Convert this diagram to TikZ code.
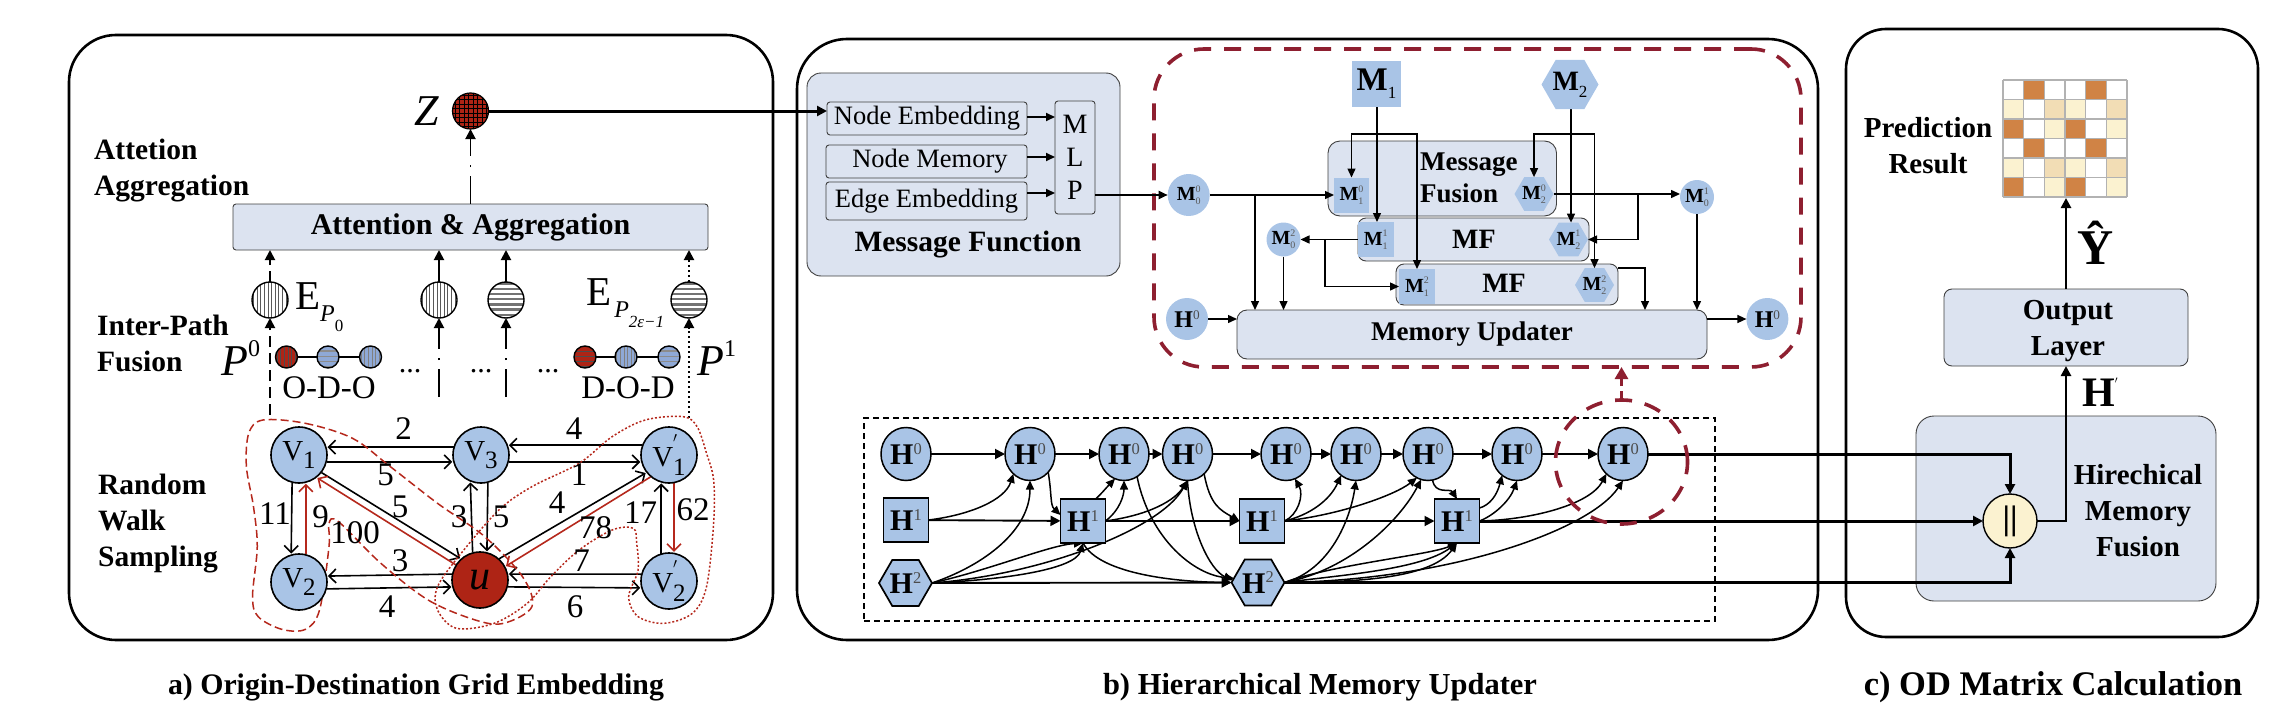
\documentclass[tikz,border=0pt]{standalone}
\usepackage{fontspec}
\setmainfont{Liberation Serif}
\usetikzlibrary{arrows.meta,shapes.geometric,calc}
\pgfdeclarelayer{back}\pgfdeclarelayer{edges}\pgfsetlayers{back,edges,main}
\definecolor{pbox}{HTML}{DCE3F0}
\definecolor{nblue}{HTML}{A9C4E6}
\definecolor{sblue}{HTML}{8FA9D6}
\definecolor{ured}{HTML}{AE2415}
\definecolor{dred}{HTML}{8E1F30}
\definecolor{lred}{HTML}{B5281C}
\definecolor{cello}{HTML}{D08345}
\definecolor{cellt}{HTML}{F2DDB5}
\definecolor{cellp}{HTML}{FBF2D0}
\definecolor{cellw}{HTML}{FFFFFF}
\newcommand{\fsz}[1]{\fontsize{#1}{#1}\selectfont}
\newcommand{\MSS}[2]{{\bfseries M}\rlap{\raisebox{.42em}{\fsz{10}\color{black!65}#1}}\raisebox{-.2em}{\fsz{10}\color{black!65}#2}}
\newcommand{\HS}[1]{{\bfseries H}\raisebox{.36em}{\fontsize{.55em}{.55em}\selectfont\color{black!70}#1}}
\newcommand{\VS}[1]{V\raisebox{-.3em}{\fsz{25}#1}}
\newcommand{\VP}[1]{V\rlap{\raisebox{.55em}{\fsz{20}$'$}}\raisebox{-.3em}{\fsz{25}#1}}
\tikzset{
  tri/.style={-{Triangle[length=10pt,width=10pt]}},
  tris/.style={-{Triangle[length=9pt,width=8pt]}},
  barb/.style={-{Straight Barb[length=7pt,width=14pt]},shorten >=1pt},
  panel/.style={draw=black,line width=2.6pt,rounded corners=#1,inner sep=0pt,outer sep=0pt},
  blk/.style={draw=black!75,line width=.9pt,fill=pbox,inner sep=0pt,outer sep=0pt,rounded corners=#1},
  bt/.style={font=\fontsize{29.5}{36}\selectfont\bfseries,inner sep=0pt},
  elab/.style={font=\fsz{33},inner sep=0pt},
  gnode/.style={circle,draw=black,line width=1.6pt,fill=nblue,minimum size=56pt,inner sep=0pt,outer sep=.5pt,font=\fsz{29}},
  hatched/.style={circle,draw=black,line width=1.4pt,inner sep=0pt,outer sep=0pt},
  vh/.style 2 args={path picture={\foreach \d in {-20,-16.4,...,20}{\draw[#1,line width=#2pt] ([xshift=\d pt]path picture bounding box.north) -- ([xshift=\d pt]path picture bounding box.south);}}},
  hh/.style 2 args={path picture={\foreach \d in {-20,-14.8,...,20}{\draw[#1,line width=#2pt] ([yshift=\d pt]path picture bounding box.west) -- ([yshift=\d pt]path picture bounding box.east);}}},
  zgrid/.style={path picture={\foreach \d in {-20,-15.5,...,20}{\draw[black,line width=.9pt] ([xshift=\d pt]path picture bounding box.north) -- ([xshift=\d pt]path picture bounding box.south);\draw[black,line width=.9pt] ([yshift=\d pt]path picture bounding box.west) -- ([yshift=\d pt]path picture bounding box.east);}}},
  mc/.style={circle,fill=nblue,inner sep=0pt,outer sep=0pt,font=\fsz{20}},
  ms/.style={rectangle,fill=nblue,inner sep=0pt,outer sep=0pt,font=\fsz{20}},
  mh/.style={regular polygon,regular polygon sides=6,fill=nblue,inner sep=0pt,outer sep=0pt,font=\fsz{20}},
  hc/.style={ellipse,draw=black,line width=1.5pt,fill=nblue,minimum width=50pt,minimum height=53pt,inner sep=0pt,outer sep=0pt,font=\fsz{30}},
  hs/.style={rectangle,draw=black,line width=1.7pt,fill=nblue,minimum width=45pt,minimum height=44pt,inner sep=0pt,outer sep=0pt,font=\fsz{30}},
  hx/.style={regular polygon,regular polygon sides=6,draw=black,line width=1.7pt,fill=nblue,minimum size=53pt,inner sep=0pt,outer sep=0pt,font=\fsz{30}},
  cv/.style={line width=1.5pt,-{Triangle[length=9pt,width=8pt]}},
  row/.style={line width=1.9pt,tri},
  thickrow/.style={line width=3pt},
  thin1/.style={line width=1.4pt},
  red1/.style={draw=lred,line width=1.6pt},
  ddash/.style={dash pattern=on 11pt off 6pt},
  ddot/.style={dash pattern=on 2.5pt off 2.5pt},
  ddashdot/.style={dash pattern=on 28pt off 9pt on 2.5pt off 9pt on 40pt off 0pt},
  hb/.style={line width=1.9pt}
}
\begin{document}
\begin{tikzpicture}[x=1pt,y=-1pt]
\useasboundingbox (0,0) rectangle (2271,725);

\begin{pgfonlayer}{back}
\node[panel=47pt,minimum width=704pt,minimum height=605pt] (pa) at (421,337.5) {};
\node[panel=50pt,minimum width=1021pt,minimum height=601pt] (pb) at (1307.5,339.5) {};
\node[panel=40pt,minimum width=412pt,minimum height=608pt] (pc) at (2052,333) {};

\node[blk=3pt,minimum width=475pt,minimum height=46pt,font=\fontsize{30}{36}\selectfont\bfseries] (att) at (470.5,227) {\raisebox{-2.5pt}{Attention \& Aggregation}};

\node[blk=14pt,minimum width=313pt,minimum height=203pt] (mfn) at (963.5,174.5) {};
\node[blk=3pt,minimum width=200pt,minimum height=33pt,font=\fsz{26.5}] (ne) at (927,118.5) {Node Embedding};
\node[blk=3pt,minimum width=201pt,minimum height=33pt,font=\fsz{26.5}] (nm) at (926.5,161.5) {\hspace{7pt}Node Memory};
\node[blk=3pt,minimum width=201pt,minimum height=38pt,font=\fsz{26.5}] (ee) at (926.5,201) {Edge Embedding};
\node[blk=3pt,minimum width=40pt,minimum height=113pt,align=center,font=\fontsize{28}{33}\selectfont] (mlp) at (1075,157.5) {M\\L\\P};
\node[font=\fsz{29.5}\bfseries,inner sep=0pt] (mft) at (968,245) {Message Function};

\node[blk=12pt,minimum width=228.5pt,minimum height=75pt] (mf0) at (1442.25,178.5) {};
\node[blk=8pt,minimum width=231pt,minimum height=43pt] (mf1) at (1473.5,239.5) {};
\node[blk=8pt,minimum width=222pt,minimum height=41pt] (mf2) at (1507,284.5) {};
\node[blk=10pt,minimum width=470pt,minimum height=49pt,font=\fsz{27}\bfseries] (mem) at (1472,334.5) {\raisebox{-2.5pt}{Memory Updater}};

\node[blk=18pt,minimum width=300pt,minimum height=185pt] (hmf) at (2066,508.5) {};
\node[blk=8pt,minimum width=244pt,minimum height=77pt] (outl) at (2066,327.5) {};
\node[font=\fontsize{29}{36}\selectfont\bfseries,align=center,inner sep=0pt] (outt) at (2068,331) {Output\\Layer};

\foreach \c [count=\i from 0] in {cellw,cello,cellw,cellw,cello,cellw,cellp,cellw,cellt,cellp,cellw,cellt,cello,cellw,cellp,cello,cellw,cellp,cellw,cello,cellw,cellw,cello,cellw,cellp,cellw,cellt,cellp,cellw,cellt,cello,cellw,cellp,cello,cellw,cellp}{
  \pgfmathtruncatemacro{\cc}{mod(\i,6)}
  \pgfmathtruncatemacro{\rr}{int(\i/6)}
  \fill[\c] (2003+\cc*20.67,80+\rr*19.5) rectangle ++(20.67,19.5);
}
\foreach \i in {0,...,6}{
  \draw[black!30,line width=1.2pt] (2003+\i*20.67,80) -- (2003+\i*20.67,197);
  \draw[black!30,line width=1.2pt] (2003,80+\i*19.5) -- (2127,80+\i*19.5);
}
\coordinate (gridb) at (2066,198);
\end{pgfonlayer}

% ---- texts panel a
\node[bt,anchor=west,align=left] (tatt) at (94,170.5) {Attetion\\Aggregation};
\node[bt,anchor=west,align=left] (tfus) at (97,343) {Inter-Path\\Fusion};
\node[bt,anchor=west,align=left] (trw) at (98,523.5) {Random\\Walk\\Sampling};

\node[circle,fill=ured,draw=black,line width=1.2pt,minimum size=36pt,inner sep=0pt,outer sep=0pt,zgrid] (Z) at (470.5,111) {};
\node[inner sep=0pt,anchor=base,font=\fsz{44}\itshape] (zlab) at (427,125) {Z};

\node[hatched,minimum size=36pt,vh={black!65}{1}] (E1) at (270,300) {};
\node[hatched,minimum size=36pt,vh={black!65}{1}] (E2) at (439,300) {};
\node[hatched,minimum size=36pt,hh={black!55}{2.4}] (E3) at (506,300) {};
\node[hatched,minimum size=36pt,hh={black!55}{2.4}] (E4) at (689,300) {};

\node[inner sep=0pt,anchor=base west,font=\fsz{41}] (Ep0) at (295,309) {E\raisebox{-.3em}{\fsz{24}\itshape P}\raisebox{-.55em}{\fsz{17}0}};
\node[inner sep=0pt,anchor=base west,font=\fsz{41}] (Ep1) at (586,305) {E\hspace{3pt}\raisebox{-.3em}{\fsz{24}\itshape P}\raisebox{-.55em}{\fsz{17}\itshape 2ε−1}};
\node[inner sep=0pt,anchor=base west,font=\fsz{44}\itshape] (P0) at (221,375) {P\raisebox{.42em}{\fsz{24}\upshape 0}};
\node[inner sep=0pt,anchor=base west,font=\fsz{44}\itshape] (P1) at (697,375) {P\raisebox{.42em}{\fsz{24}\upshape 1}};

\node[hatched,minimum size=22pt,fill=ured,vh={black!70}{1}] (a1) at (286.5,357) {};
\node[hatched,minimum size=22pt,fill=sblue,hh={black!45}{1.3}] (a2) at (328,357) {};
\node[hatched,minimum size=22pt,fill=sblue,vh={black!50}{1}] (a3) at (370.5,357) {};
\node[hatched,minimum size=22pt,fill=ured,hh={black!70}{1}] (b1) at (585,357) {};
\node[hatched,minimum size=22pt,fill=sblue,vh={black!50}{1}] (b2) at (626,357) {};
\node[hatched,minimum size=22pt,fill=sblue,hh={black!45}{1.3}] (b3) at (669,357) {};
\node[inner sep=0pt,font=\fsz{33}] (odo) at (329,388) {O-D-O};
\node[inner sep=0pt,font=\fsz{33}] (dod) at (628,388) {D-O-D};
\node[inner sep=0pt,anchor=base,font=\fsz{30}] (d1) at (410,372) {...};
\node[inner sep=0pt,anchor=base,font=\fsz{30}] (d2) at (481,372) {...};
\node[inner sep=0pt,anchor=base,font=\fsz{30}] (d3) at (548,372) {...};

\node[gnode] (v1) at (299,455) {\VS{1}};
\node[gnode] (v2) at (299,582) {\VS{2}};
\node[gnode] (v3) at (481,455) {\VS{3}};
\node[gnode,fill=ured,font=\fsz{42}\itshape] (u) at (480,580) {u};
\node[gnode] (w1) at (669,455) {\VP{1}};
\node[gnode] (w2) at (669,581) {\VP{2}};

\node[elab] (l1) at (403.5,429) {2};
\node[elab] (l2) at (385.6,475) {5};
\node[elab] (l3) at (574,429) {4};
\node[elab] (l4) at (579,475) {1};
\node[elab] (l5) at (400,507) {5};
\node[elab] (l6) at (459,517) {3};
\node[elab] (l7) at (501,517) {5};
\node[elab] (l8) at (557,503) {4};
\node[elab] (l9) at (595.6,528) {78};
\node[elab] (l10) at (640.5,513) {17};
\node[elab] (l11) at (693,510) {62};
\node[elab] (l12) at (275,514) {11};
\node[elab] (l13) at (320.5,517) {9};
\node[elab] (l14) at (355,533) {100};
\node[elab] (l15) at (400,561) {3};
\node[elab] (l16) at (581.5,561) {7};
\node[elab] (l17) at (387,607) {4};
\node[elab] (l18) at (575,607) {6};

\node[font=\fsz{29.8}\bfseries,inner sep=0pt] (capa) at (416,687) {a) Origin-Destination Grid Embedding};
\node[font=\fsz{30.5}\bfseries,inner sep=0pt] (capb) at (1320,687) {b) Hierarchical Memory Updater};
\node[font=\fsz{34.5}\bfseries,inner sep=0pt] (capc) at (2053,687) {c) OD Matrix Calculation};

% ---- memory updater nodes
\node[ms,minimum width=49pt,minimum height=46pt,font=\fsz{33}] (M1) at (1376.5,84) {{\bfseries M}\raisebox{-.25em}{\fsz{17}1}};
\node[mh,minimum size=50pt,font=\fsz{28}] (M2) at (1570,84.5) {{\bfseries M}\raisebox{-.25em}{\fsz{17}2}};
\node[mc,minimum size=42pt] (M00) at (1188.7,195) {\MSS{0}{0}};
\node[mc,minimum size=34pt] (M10) at (1697,197) {\MSS{1}{0}};
\node[mc,minimum size=34pt] (M20) at (1283.5,239.5) {\MSS{2}{0}};
\node[ms,minimum width=35pt,minimum height=35pt] (M01) at (1351.5,195) {\MSS{0}{1}};
\node[mh,minimum size=39pt] (M02) at (1534,194) {\MSS{0}{2}};
\node[ms,minimum width=35.5pt,minimum height=35pt] (M11) at (1375.75,239.5) {\MSS{1}{1}};
\node[mh,minimum size=39pt] (M12) at (1568.5,239.5) {\MSS{1}{2}};
\node[ms,minimum width=36pt,minimum height=35pt] (M21) at (1417,286.5) {\MSS{2}{1}};
\node[mh,minimum size=38pt] (M22) at (1594.5,285) {\MSS{2}{2}};
\node[font=\fontsize{27}{32}\selectfont\bfseries,inner sep=0pt,anchor=west,align=left] (tmf) at (1420,178) {Message\\Fusion};
\node[font=\fsz{28}\bfseries,inner sep=0pt] (tm1) at (1474,239) {MF};
\node[font=\fsz{28}\bfseries,inner sep=0pt] (tm2) at (1504,283) {MF};
\node[mc,minimum size=42pt,font=\fsz{24}] (HL) at (1187,319) {\HS{0}};
\node[mc,minimum size=42pt,font=\fsz{24}] (HR) at (1767.4,319) {\HS{0}};

% ---- history rows
\foreach \n/\x in {a/906,b/1030,c/1124,d/1187.5,e/1286,f/1356,g/1428,h/1517,i/1623}{
  \node[hc] (H0\n) at (\x,454) {\HS{0}};
}
\node[hs] (H1a) at (906,520) {\HS{1}};
\node[hs] (H1b) at (1083,521) {\HS{1}};
\node[hs] (H1c) at (1262,521) {\HS{1}};
\node[hs] (H1d) at (1457,521) {\HS{1}};
\node[hx] (H2a) at (905.5,583) {\HS{2}};
\node[hx] (H2b) at (1258,582.5) {\HS{2}};

% ---- panel c
\node[circle,draw=black,line width=1.4pt,fill=cellp,minimum size=54pt,inner sep=0pt,outer sep=0pt,font=\fsz{34}\bfseries] (cat) at (2010,521) {||};
\node[font=\fontsize{29}{36}\selectfont\bfseries,align=center,inner sep=0pt] (thmf) at (2138,511) {Hirechical\\Memory\\Fusion};
\node[font=\fontsize{29}{36}\selectfont\bfseries,align=center,inner sep=0pt] (tpr) at (1928,146) {Prediction\\Result};
\node[font=\fsz{50}\bfseries,inner sep=0pt,anchor=base] (yhat) at (2096,264) {Ŷ};
\node[font=\fsz{42}\bfseries,inner sep=0pt,anchor=base west] (hprime) at (2082,406) {H\raisebox{.42em}{\fsz{14}$'$}};

\begin{pgfonlayer}{edges}
% panel a vertical flows
\coordinate (pl) at (270,415);
\coordinate (pm1) at (439,397);
\coordinate (pm2) at (506,397);
\coordinate (pr) at (689,418);
\draw[tri,line width=1.9pt,ddashdot] (att.north -| Z) -- (Z.south);
\draw[tri,line width=1.9pt,ddash] (pl) -- (E1.south);
\draw[tri,line width=1.9pt,ddash] (E1.north) -- (E1.north |- att.south);
\draw[tri,line width=1.9pt,ddashdot] (pm1) -- (E2.south);
\draw[tri,line width=1.9pt] (E2.north) -- (E2.north |- att.south);
\draw[tri,line width=1.9pt,ddashdot] (pm2) -- (E3.south);
\draw[tri,line width=1.9pt] (E3.north) -- (E3.north |- att.south);
\draw[tri,line width=2pt,ddot] (pr) -- (E4.south);
\draw[tri,line width=2pt,ddot] (E4.north) -- (E4.north |- att.south);
\draw[line width=1.6pt] (a1) -- (a2) -- (a3);
\draw[line width=1.6pt] (b1) -- (b2) -- (b3);
% graph edges
\draw[barb,line width=1.6pt] (v3.164) -- (v1.16);
\draw[barb,line width=1.6pt] (v1.-14) -- (v3.194);
\draw[barb,line width=1.6pt] (w1.160) -- (v3.20);
\draw[barb,line width=1.6pt] (v3.-14) -- (w1.194);
\draw[barb,line width=1.6pt] (v1.-38) -- (u.132);
\draw[barb,red1] (u.148) -- (v1.-52);
\draw[barb,line width=1.6pt] (v3.-76) -- (u.76);
\draw[barb,line width=1.6pt] (u.105) -- (v3.-112);
\draw[barb,line width=1.6pt] (u.48) -- (w1.-142);
\draw[barb,red1] (w1.-130) -- (u.28);
\draw[barb,line width=1.6pt] (v1.-104) -- (v2.106);
\draw[barb,red1] (v2.76) -- (v1.-76);
\draw[barb,red1] (w1.-80) -- (w2.80);
\draw[barb,line width=1.6pt] (w2.106) -- (w1.-106);
\draw[barb,line width=1.6pt] (u.168) -- (v2.12);
\draw[barb,line width=1.6pt] (v2.-14) -- (u.194);
\draw[barb,line width=1.6pt] (w2.166) -- (u.12);
\draw[barb,line width=1.6pt] (u.-14) -- (w2.194);
% red outlines
\begin{scope}[shift={(60,390)},x=0.47192pt,y=-0.33333pt]
\draw[lred,line width=1.5pt,dash pattern=on 8pt off 4pt] plot[smooth cycle,tension=.55] coordinates {(430,90) (520,100) (620,145) (700,230) (800,340) (900,440) (980,560) (1000,650) (940,700) (880,690) (780,630) (680,520) (590,395) (570,400) (570,470) (550,660) (520,718) (470,718) (420,680) (408,620) (418,470) (410,350) (395,230) (400,130)};
\draw[lred,line width=1.5pt,dash pattern=on 2pt off 2pt] plot[smooth cycle,tension=.55] coordinates {(1240,90) (1320,80) (1350,110) (1370,190) (1385,270) (1385,400) (1370,590) (1340,670) (1280,700) (1225,680) (1205,620) (1225,540) (1222,460) (1215,415) (1170,420) (1100,480) (1040,560) (990,640) (920,700) (840,715) (800,660) (800,590) (850,490) (930,360) (1000,290) (1100,220) (1170,140)};
\end{scope}
% Z to message function
\draw[tri,line width=3pt] (Z.east) -- (Z.east -| ne.west);
\draw[tris,hb] (ne.east |- 1027,117) -- (mlp.west |- 1027,117);
\draw[tris,hb] (nm.east |- 1027,157) -- (mlp.west |- 1027,157);
\draw[tris,hb] (ee.east |- 1027,193) -- (mlp.west |- 1027,193);
\draw[tris,hb] (mlp.east |- M00.west) -- (M00.west);
% memory updater routing
\coordinate (mj1) at (1377,134);
\coordinate (mj2) at (1571,134);
\coordinate (bb1) at (1255,195);
\coordinate (bb2) at (1638,194);
\coordinate (bb3) at (1325,239.5);
\coordinate (m2o) at (1618,268);
\coordinate (m2d) at (1645,310);
\draw[tris,thin1] (M1.south -| mj1) -- (mj1 |- M11.north);
\draw[tris,thin1] (mj1) -| (M01.north);
\draw[tris,thin1] (mj1) -| (M21.north);
\draw[tris,thin1] (M2.south -| mj2) -- (mj2 |- M12.north);
\draw[tris,thin1] (mj2) -| (M02.north);
\draw[tris,thin1] (mj2) -| (M22.north);
\draw[tris,thin1] (M00.east) -- (M01.west);
\draw[tris,thin1] (bb1) -- (bb1 |- mem.north);
\draw[tris,thin1] (M02.east) -- (M02.east -| M10.west);
\draw[tris,thin1] (bb2) |- (M12.east);
\draw[tris,thin1] (M11.west) -- (M20.east);
\draw[tris,thin1] (bb3) |- (M21.west);
\draw[tris,thin1] (M20.south) -- (M20.south |- mem.north);
\draw[tris,thin1] (m2o) -| (m2d);
\draw[tris,thin1] (M10.south) -- (M10.south |- mem.north);
\draw[tris,thin1] (HL.east) -- (HL.east -| mem.west);
\draw[tris,thin1] (mem.east |- HR.west) -- (HR.west);
% hierarchy row 0
\draw[row] (H0a) -- (H0b);
\draw[row] (H0b) -- (H0c);
\draw[row] (H0c) -- (H0d);
\draw[row] (H0d) -- (H0e);
\draw[row] (H0e) -- (H0f);
\draw[row] (H0f) -- (H0g);
\draw[row] (H0g) -- (H0h);
\draw[row] (H0h) -- (H0i);
\draw[row] (H1a) -- (H1b);
\draw[row] (H1b) -- (H1c);
\draw[row] (H1c) -- (H1d);
\draw[row] (H2a) -- (H2b);
% hierarchy curves
\draw[cv] (H1a.east) .. controls (970,515) and (1005,500) .. (H0b.-130);
\draw[cv] (H2a.east) .. controls (985,565) and (1030,530) .. (H0b.south);
\draw[cv] (H0b.-45) .. controls (1052,495) and (1050,505) .. (H1b.165);
\draw[cv] (H2a.east) .. controls (990,570) and (1050,545) .. (H1b.south);
\draw[cv] (H2a.east) .. controls (1000,580) and (1075,570) .. (H1b.south);
\draw[cv] (H2a.east) .. controls (1040,575) and (1160,530) .. (H0d.south);
\draw[cv] (H1b.60) .. controls (1103,492) and (1106,488) .. (H0c.-110);
\draw[cv] (H1b.east) .. controls (1120,510) and (1124,495) .. (H0c.south);
\draw[cv] (H1b.east) .. controls (1150,515) and (1175,500) .. (H0d.south);
\draw[cv] (H0c.-60) .. controls (1150,540) and (1195,575) .. (H2b.170);
\draw[cv] (H0d.south) .. controls (1190,530) and (1210,570) .. (H2b.175);
\draw[cv] (H1b.south) .. controls (1100,575) and (1180,582) .. (H2b.180);
\draw[cv] (H0d.-50) .. controls (1210,505) and (1220,510) .. (H1c.west);
\draw[cv] (H1c.east) .. controls (1298,515) and (1304,495) .. (H0e.-70);
\draw[cv] (H1c.east) .. controls (1310,515) and (1330,500) .. (H0f.-125);
\draw[cv] (H1c.east) .. controls (1340,515) and (1395,495) .. (H0g.-115);
\draw[cv] (H2b.east) .. controls (1330,570) and (1350,520) .. (H0f.south);
\draw[cv] (H2b.east) .. controls (1350,570) and (1400,520) .. (H0g.-105);
\draw[cv] (H2b.east) .. controls (1340,575) and (1420,570) .. (H1d.south);
\draw[cv] (H2b.east) .. controls (1350,582) and (1430,580) .. (H1d.south);
\draw[cv] (H2b.east) .. controls (1330,565) and (1430,555) .. (H1d.south);
\draw[cv] (H2b.east) .. controls (1450,580) and (1590,530) .. (H0i.south);
\draw[cv] (H0g.-80) .. controls (1435,495) and (1450,488) .. (H1d.north);
\draw[cv] (H1d.30) .. controls (1490,505) and (1497,495) .. (H0h.-125);
\draw[cv] (H1d.east) .. controls (1495,515) and (1510,500) .. (H0h.south);
\draw[cv] (H1d.east) .. controls (1530,520) and (1590,505) .. (H0i.-130);
% into concat
\draw[tri,thickrow] (H0i.east) -| (cat.north);
\draw[tri,thickrow] (H1d.east) -- (cat.west);
\draw[tri,thickrow] (H2b.east) -| (cat.south);
\draw[tri,line width=2.6pt] (cat.east) -| (outl.south);
\draw[tri,line width=2.6pt] (outl.north) -- (gridb);
\end{pgfonlayer}

\begin{pgfonlayer}{back}
\node[draw=black,line width=1.5pt,dash pattern=on 6pt off 4pt,minimum width=851pt,minimum height=203pt,inner sep=0pt,outer sep=0pt] (hbox) at (1289.5,519.5) {};
\node[draw=dred,line width=3.6pt,dash pattern=on 17pt off 13pt,rounded corners=50pt,minimum width=647pt,minimum height=318pt,inner sep=0pt,outer sep=0pt] (area) at (1477.5,208) {};
\end{pgfonlayer}
\node[ellipse,draw=dred,line width=3.6pt,dash pattern=on 17pt off 13pt,minimum width=132pt,minimum height=124pt,inner sep=0pt,outer sep=0pt] (focus) at (1621.5,462) {};
\draw[dred,line width=2.8pt,dash pattern=on 9pt off 5pt,-{Triangle[length=12pt,width=13pt]}] (focus.north) -- (focus.north |- area.south);
\end{tikzpicture}
\end{document}
